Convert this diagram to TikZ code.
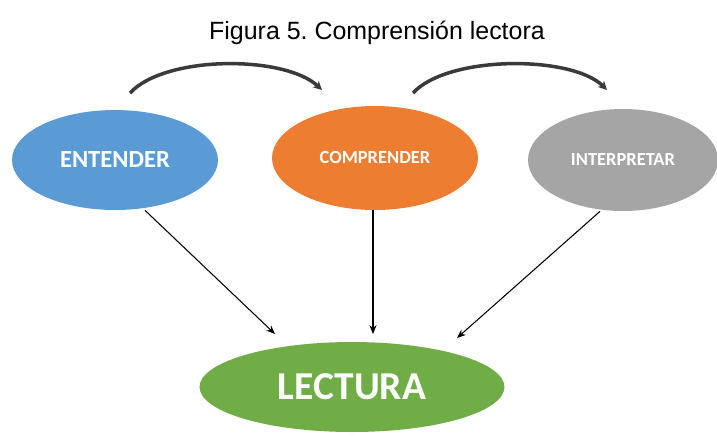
\documentclass[tikz,border=0pt]{standalone}
\usepackage{fontspec}
\setmainfont{Liberation Sans}
\newfontfamily\calfont{Carlito}
\usetikzlibrary{arrows.meta,positioning,shapes.geometric}
\definecolor{bolaAzul}{HTML}{5B9BD5}
\definecolor{bolaNaranja}{HTML}{ED7D31}
\definecolor{bolaGris}{HTML}{A5A5A5}
\definecolor{bolaVerde}{HTML}{70AD47}
\definecolor{flechaGris}{HTML}{3A3A3A}

\begin{document}
\begin{tikzpicture}[x=0.02cm,y=-0.02cm,
    bola/.style={ellipse, inner sep=0pt, text=white},
    flecha/.style={-{Stealth[length=5pt,width=4pt]}, line width=0.6pt, black},
    curva/.style={-{Stealth[length=5pt,width=5pt]}, line width=2pt, flechaGris}]
  \useasboundingbox (0,0) rectangle (717,441);
  \node[font=\fontsize{14.2}{16}\selectfont] (titulo) at (377,33) {Figura 5.\ Comprensión lectora};

  \node[bola, fill=bolaAzul, minimum width=4.12cm, minimum height=2cm, font=\calfont\bfseries\fontsize{14}{16}\selectfont] (entender) at (115,160) {ENTENDER};
  \node[bola, fill=bolaNaranja, minimum width=4.12cm, minimum height=2.08cm, font=\calfont\bfseries\fontsize{10.5}{12}\selectfont] (comprender) at (375,158) {COMPRENDER};
  \node[bola, fill=bolaGris, minimum width=3.8cm, minimum height=2.04cm, font=\calfont\bfseries\fontsize{10.5}{12}\selectfont] (interpretar) at (623,160) {INTERPRETAR};
  \node[bola, fill=bolaVerde, minimum width=6.1cm, minimum height=1.8cm, font=\calfont\bfseries\fontsize{22.5}{26}\selectfont] (lectura) at (352,387) {LECTURA};

  % puntas sobre la lectura
  \coordinate (l1) at (275,334);
  \coordinate (l2) at (373,334);
  \coordinate (l3) at (457,338);
  \draw[flecha] (entender.south) ++(30,0) coordinate (e1) -- (l1);
  \draw[flecha] (comprender.south) ++(-2,0) coordinate (m1) -- (l2);
  \draw[flecha] (interpretar.south) ++(-23,0) coordinate (i1) -- (l3);

  % flechas curvas de arriba
  \coordinate (c1) at (130,93);
  \coordinate (c2) at (322,90);
  \coordinate (c3) at (413,93);
  \coordinate (c4) at (607,90);
  \draw[curva] (c1) .. controls (165,55) and (285,55) .. (c2);
  \draw[curva] (c3) .. controls (448,55) and (572,55) .. (c4);
\end{tikzpicture}
\end{document}
